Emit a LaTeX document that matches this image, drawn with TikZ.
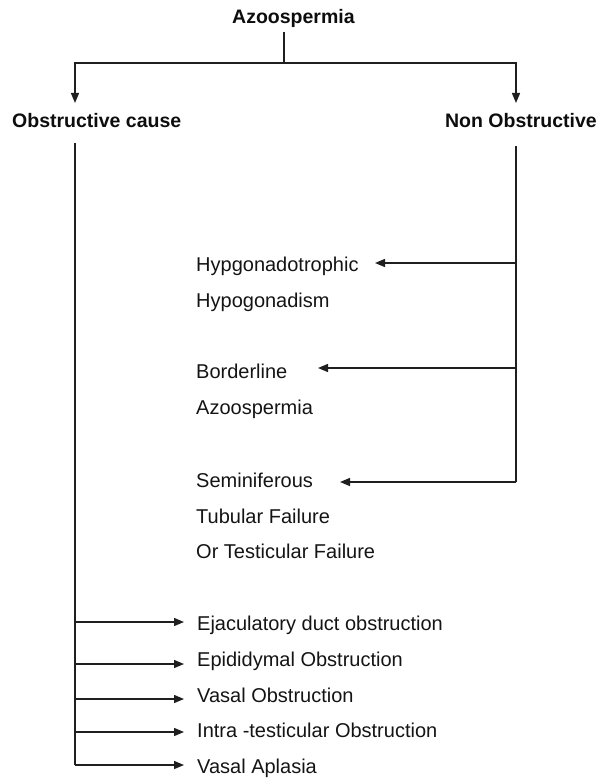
\documentclass[tikz,border=0pt]{standalone}
\usepackage{fontspec}
\setmainfont{Liberation Sans}
\usetikzlibrary{arrows.meta}
\begin{document}
\begin{tikzpicture}[x=1pt,y=-1pt,
  lbl/.style={inner sep=0pt, anchor=base west, font=\fontsize{20}{24}\selectfont, text=black!92},
  hdr/.style={inner sep=0pt, anchor=base west, font=\fontsize{19.5}{24}\selectfont\bfseries, text=black!95},
  ln/.style={line width=1.4pt, draw=black!88},
  arr/.style={ln, -{Triangle[length=10pt,width=8pt]}}]
\useasboundingbox (0,0) rectangle (604,778);

% headings
\node[hdr] (az) at (232,24) {Azoospermia};
\node[hdr] (ob) at (12,128) {Obstructive cause};
\node[hdr,anchor=base east] (no) at (597,128) {Non Obstructive};

% non-obstructive causes
\node[lbl] (h1) at (196,271) {Hypgonadotrophic};
\node[lbl] (h2) at (196,307) {Hypogonadism};
\node[lbl] (b1) at (196,378) {Borderline};
\node[lbl] (b2) at (196,414) {Azoospermia};
\node[lbl] (s1) at (196,487) {Seminiferous};
\node[lbl] (s2) at (196,523) {Tubular Failure};
\node[lbl] (s3) at (196,558) {Or Testicular Failure};

% obstructive causes
\node[lbl] (o1) at (197,630) {Ejaculatory duct obstruction};
\node[lbl] (o2) at (197,666) {Epididymal Obstruction};
\node[lbl] (o3) at (197,702) {Vasal Obstruction};
\node[lbl] (o4) at (197,737) {Intra -testicular Obstruction};
\node[lbl] (o5) at (197,773) {Vasal Aplasia};

% junction coordinates
\coordinate (azb) at (284,32);
\coordinate (j0) at (284,63);
\coordinate (jl) at (75,63);
\coordinate (jr) at (516,63);
\coordinate (tl) at (75,103);
\coordinate (tr) at (516,103);

\coordinate (lv0) at (75,143);
\coordinate (lv1) at (75,622);
\coordinate (lv2) at (75,664);
\coordinate (lv3) at (75,699);
\coordinate (lv4) at (75,732);
\coordinate (lv5) at (75,765);
\coordinate (la1) at (184,622);
\coordinate (la2) at (184,664);
\coordinate (la3) at (184,699);
\coordinate (la4) at (184,732);
\coordinate (la5) at (184,765);

\coordinate (rv0) at (516,146);
\coordinate (rv1) at (516,263);
\coordinate (rv2) at (516,368);
\coordinate (rv3) at (516,482);
\coordinate (ra1) at (375,263);
\coordinate (ra2) at (318,368);
\coordinate (ra3) at (340,482);

% top split
\draw[ln] (azb) -- (j0);
\draw[arr] (j0) -- (jl) -- (tl);
\draw[arr] (j0) -- (jr) -- (tr);

% right branch
\draw[ln] (rv0) -- (rv3);
\draw[arr] (rv1) -- (ra1);
\draw[arr] (rv2) -- (ra2);
\draw[arr] (rv3) -- (ra3);

% left branch
\draw[ln] (lv0) -- (lv5);
\draw[arr] (lv1) -- (la1);
\draw[arr] (lv2) -- (la2);
\draw[arr] (lv3) -- (la3);
\draw[arr] (lv4) -- (la4);
\draw[arr] (lv5) -- (la5);
\end{tikzpicture}
\end{document}
